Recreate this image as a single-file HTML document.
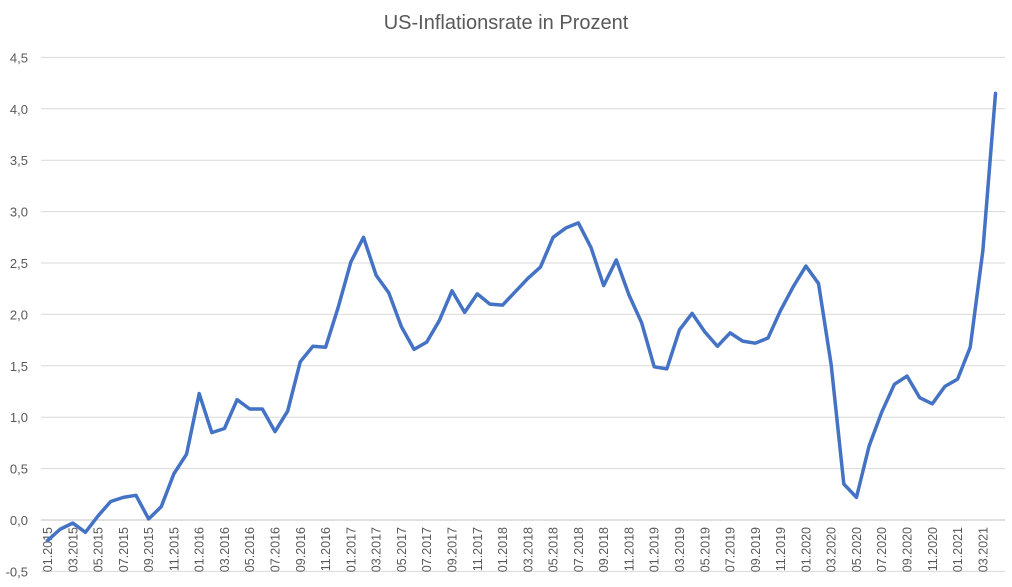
<!DOCTYPE html>
<html><head><meta charset="utf-8"><style>
body{margin:0;background:#fff;}
svg{display:block;font-family:"Liberation Sans",sans-serif;}
</style></head><body>
<svg id="chart" width="1012" height="587" viewBox="0 0 1012 587">
<text x="506" y="29" text-anchor="middle" font-size="20" fill="#595959">US-Inflationsrate in Prozent</text>
<g id="grid"></g><g id="yt"></g><g id="xt"></g><g id="ln"></g>
</svg>
<script>
const yTicks=[-0.5,0,0.5,1,1.5,2,2.5,3,3.5,4,4.5];
const years=[2015,2016,2017,2018,2019,2020,2021];
const values=[-0.2,-0.09,-0.03,-0.12,0.04,0.18,0.22,0.24,0.01,0.13,0.45,0.64,
1.23,0.85,0.89,1.17,1.08,1.08,0.86,1.06,1.54,1.69,1.68,2.07,
2.51,2.75,2.38,2.21,1.88,1.66,1.73,1.94,2.23,2.02,2.20,2.10,
2.09,2.22,2.35,2.46,2.75,2.84,2.89,2.65,2.28,2.53,2.19,1.92,
1.49,1.47,1.85,2.01,1.83,1.69,1.82,1.74,1.72,1.77,2.04,2.27,
2.47,2.30,1.51,0.35,0.22,0.72,1.05,1.32,1.40,1.19,1.13,1.30,
1.37,1.68,2.62,4.15];
const NS='http://www.w3.org/2000/svg';
const y=v=>520-v*102.8;
const x=i=>47.5+i*12.64;
const grid=document.getElementById('grid'),yt=document.getElementById('yt'),xt=document.getElementById('xt'),ln=document.getElementById('ln');
yTicks.forEach(t=>{
  const l=document.createElementNS(NS,'line');
  
  
  l.setAttribute('x1',41);l.setAttribute('x2',1005);
  l.setAttribute('y1',y(t));l.setAttribute('y2',y(t));
  l.setAttribute('stroke',t===0?'#bfbfbf':'#d9d9d9');l.setAttribute('stroke-width',1);
  grid.appendChild(l);
  const tx=document.createElementNS(NS,'text');
  
  
  tx.setAttribute('x',28);tx.setAttribute('y',y(t)+5);
  tx.setAttribute('text-anchor','end');tx.setAttribute('font-size',13);tx.setAttribute('fill','#595959');
  tx.textContent=t.toFixed(1).replace('.',',');
  yt.appendChild(tx);
});
for(let i=0;i<values.length;i+=2){
  const m=(i%12)+1,yr=years[Math.floor(i/12)];
  const lab=(m<10?'0':'')+m+'.'+yr;
  const tx=document.createElementNS(NS,'text');
  
  
  tx.setAttribute('transform','translate('+(x(i)+4.5)+',527) rotate(-90)');
  tx.setAttribute('text-anchor','end');tx.setAttribute('font-size',12.5);tx.setAttribute('fill','#595959');
  tx.textContent=lab;
  xt.appendChild(tx);
}
const p=document.createElementNS(NS,'polyline');


p.setAttribute('points',values.map((v,i)=>x(i)+','+y(v)).join(' '));
p.setAttribute('fill','none');p.setAttribute('stroke','#4472c4');p.setAttribute('stroke-width',3.5);
p.setAttribute('stroke-linejoin','round');p.setAttribute('stroke-linecap','round');
ln.appendChild(p);
</script>
</body></html>
